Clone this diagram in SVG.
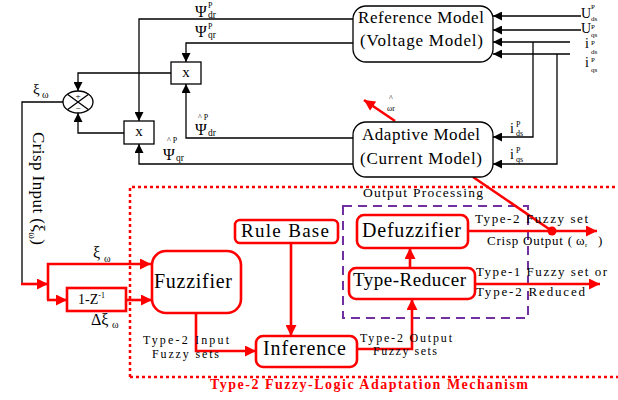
<svg xmlns="http://www.w3.org/2000/svg" width="618" height="400" viewBox="0 0 618 400">
  <style>
    .t{font-family:"Liberation Serif","Times New Roman",serif;fill:#000}
    .bk{stroke:#000;stroke-width:1.3;fill:none}
    .bkbox{stroke:#000;stroke-width:1.3;fill:#fff}
    .rd{stroke:#f00;stroke-width:2.6;fill:none}
    .rdbox{stroke:#f00;stroke-width:2.6;fill:#fff}
    .ab{marker-end:url(#arrB)}
    .ar{marker-end:url(#arrR)}
    .sub{font-size:8px}
    .tiny{font-size:7px}
    .lbl{font-size:13px}
    .lbs{font-size:12px}
  </style>
  <defs>
    <marker id="arrB" viewBox="0 0 10 10" refX="10" refY="5" markerWidth="9" markerHeight="9" markerUnits="userSpaceOnUse" orient="auto">
      <path d="M0,0 L10,5 L0,10 z" fill="#000"/>
    </marker>
    <marker id="arrR" viewBox="0 0 10 10" refX="10" refY="5" markerWidth="13" markerHeight="11" markerUnits="userSpaceOnUse" orient="auto">
      <path d="M0,0 L10,5 L0,10 z" fill="#f00"/>
    </marker>
  </defs>

  <!-- fuzzy adaptation mechanism frame (dotted) and output-processing frame (dashed) -->
  <g id="frames">
    <path d="M130,377 V187 H620 M130,377 H620" fill="none" stroke="#f00" stroke-width="2.5" stroke-dasharray="3,3"/>
    <rect x="343" y="206" width="185" height="112" fill="none" stroke="#7030A0" stroke-width="2" stroke-dasharray="9,6"/>
    <text class="t" x="363" y="197" font-size="13.5" textLength="120" lengthAdjust="spacing">Output Processing</text>
    <text x="210" y="389" font-family="Liberation Serif, serif" font-weight="bold" font-size="14" fill="#f00" textLength="318" lengthAdjust="spacing">Type-2 Fuzzy-Logic Adaptation Mechanism</text>
  </g>

  <!-- connectors -->
  <g id="connectors">
    <!-- model outputs to multipliers -->
    <path class="bk ab" d="M353,19 H139 V121"/>
    <path class="bk ab" d="M353,43 H186 V62"/>
    <path class="bk ab" d="M353,138 H186 V84"/>
    <path class="bk ab" d="M353,164 H139 V144"/>
    <!-- multipliers to summer -->
    <path class="bk ab" d="M171,73 H78 V91"/>
    <path class="bk ab" d="M124,133 H78 V113"/>
    <!-- error signal -->
    <path class="bk" d="M63,102 H22 V284"/>
    <path class="rd ar" d="M21,284 H48"/>
    <path class="rd" d="M48,263 V300"/>
    <path class="rd ar" d="M47,264 H151"/>
    <path class="rd ar" d="M47,300 H67"/>
    <path class="rd ar" d="M126,300 H152"/>
    <!-- fuzzy engine -->
    <path class="rd ar" d="M196,313 V351 H256"/>
    <path class="rd ar" d="M291,243 V336"/>
    <path class="rd ar" d="M357,349 H412 V299"/>
    <path class="rd ar" d="M410,268 V248"/>
    <path class="rd ar" d="M468,231 H597"/>
    <path class="rd ar" d="M475,284 H600"/>
    <path class="rd" d="M473,177 L552,231"/>
    <circle cx="552" cy="231" r="4.5" fill="#f00"/>
    <path class="rd ar" d="M395,121 L364,100"/>
    <!-- stator inputs -->
    <path class="bk ab" d="M581,16 H493"/>
    <path class="bk ab" d="M581,30 H493"/>
    <path class="bk ab" d="M570,42 H493"/>
    <path class="bk ab" d="M570,54 H493"/>
    <path class="bk ab" d="M533,42 V137 H493"/>
    <path class="bk ab" d="M557,54 V164 H493"/>
  </g>

  <!-- signal labels -->
  <g id="labels" class="t">
    <text x="195" y="17" font-size="16">Ψ</text>
    <text x="208" y="8" class="sub">P</text>
    <text x="208" y="18" font-size="9.5">dr</text>
    <text x="195" y="37" font-size="16">Ψ</text>
    <text x="208" y="29" class="sub">P</text>
    <text x="208" y="38" font-size="9.5">qr</text>

    <text x="198" y="120" class="sub">^ P</text>
    <text x="195" y="135" font-size="16">Ψ</text>
    <text x="208" y="136" font-size="9.5">dr</text>
    <text x="167" y="143" class="sub">^ P</text>
    <text x="163" y="160" font-size="16">Ψ</text>
    <text x="176" y="161" font-size="9.5">qr</text>

    <text x="33" y="94" font-size="15">ξ</text>
    <text x="42" y="98" font-size="10">ω</text>

    <text transform="translate(33,132) rotate(90)" font-size="17" textLength="113" lengthAdjust="spacing">Crisp Input (ξ<tspan font-size="10" dy="4">ω</tspan><tspan dy="-4">)</tspan></text>

    <text x="93" y="258" font-size="16">ξ</text>
    <text x="104" y="262" font-size="10">ω</text>
    <text x="91" y="325" font-size="16">Δξ</text>
    <text x="112" y="328" font-size="10">ω</text>

    <text x="581" y="18" font-size="14">U</text>
    <text x="591" y="9" class="tiny">P</text>
    <text x="591" y="21" class="tiny">ds</text>
    <text x="581" y="33" font-size="14">U</text>
    <text x="591" y="29" class="tiny">P</text>
    <text x="591" y="37" class="tiny">qs</text>
    <text x="585" y="48" font-size="14">i</text>
    <text x="591" y="45" class="tiny">P</text>
    <text x="591" y="54" class="tiny">ds</text>
    <text x="585" y="67" font-size="14">i</text>
    <text x="591" y="62" class="tiny">P</text>
    <text x="591" y="72" class="tiny">qs</text>

    <text x="510" y="133" font-size="14">i</text>
    <text x="516" y="127" class="sub">P</text>
    <text x="516" y="136" class="sub">ds</text>
    <text x="510" y="159" font-size="14">i</text>
    <text x="516" y="153" class="sub">P</text>
    <text x="516" y="162" class="sub">qs</text>

    <text x="389" y="101" font-size="8">^</text>
    <text x="387" y="111" font-size="8">ωr</text>

    <text x="143" y="344" class="lbs" textLength="86" lengthAdjust="spacing">Type-2 Input</text>
    <text x="152" y="357.5" class="lbs" textLength="67" lengthAdjust="spacing">Fuzzy sets</text>
    <text x="360" y="341.5" class="lbs" textLength="92" lengthAdjust="spacing">Type-2 Output</text>
    <text x="373" y="355" class="lbs" textLength="64" lengthAdjust="spacing">Fuzzy sets</text>
    <text x="475" y="223" class="lbl" textLength="113" lengthAdjust="spacing">Type-2 Fuzzy set</text>
    <text x="487" y="245" class="lbl" textLength="85" lengthAdjust="spacing">Crisp Output (</text>
    <text x="576" y="245" class="lbl">ω</text>
    <text x="585" y="247" font-size="7">r</text>
    <text x="598" y="245" class="lbl">)</text>
    <text x="476" y="276" class="lbl" textLength="131" lengthAdjust="spacing">Type-1 Fuzzy set or</text>
    <text x="476" y="296" class="lbl" textLength="109" lengthAdjust="spacing">Type-2 Reduced</text>
  </g>

  <!-- nodes -->
  <g id="reference-model">
    <rect class="bkbox" x="353" y="6" width="140" height="56" rx="13"/>
    <text class="t" x="358" y="23" font-size="17" textLength="126" lengthAdjust="spacing">Reference Model</text>
    <text class="t" x="360" y="46" font-size="17" textLength="123" lengthAdjust="spacing">(Voltage Model)</text>
  </g>
  <g id="adaptive-model">
    <rect class="bkbox" x="353" y="122" width="140" height="55" rx="13"/>
    <text class="t" x="362" y="140" font-size="17" textLength="118" lengthAdjust="spacing">Adaptive Model</text>
    <text class="t" x="360" y="164" font-size="17" textLength="122" lengthAdjust="spacing">(Current Model)</text>
  </g>
  <g id="mult-upper">
    <rect class="bkbox" x="171" y="62" width="30" height="22"/>
    <text class="t" x="186" y="77" font-size="15" text-anchor="middle">x</text>
  </g>
  <g id="mult-lower">
    <rect class="bkbox" x="124" y="121" width="30" height="23"/>
    <text class="t" x="139" y="136" font-size="15" text-anchor="middle">x</text>
  </g>
  <g id="summer">
    <ellipse class="bkbox" cx="78" cy="102" rx="15" ry="11"/>
    <path class="bk" d="M67.4,94.2 L88.6,109.8 M88.6,94.2 L67.4,109.8"/>
    <text class="t" x="78" y="99" font-size="9" text-anchor="middle">+</text>
    <text class="t" x="78" y="111" font-size="9" text-anchor="middle">−</text>
  </g>
  <g id="difference">
    <rect class="rdbox" x="67" y="288" width="59" height="23"/>
    <text class="t" x="78" y="304" font-size="14">1-Z<tspan font-size="8" dy="-6">-1</tspan></text>
  </g>
  <g id="fuzzifier">
    <rect class="rdbox" x="152" y="251" width="89" height="62" rx="14"/>
    <text class="t" x="154" y="288" font-size="20" textLength="78" lengthAdjust="spacing">Fuzzifier</text>
  </g>
  <g id="rule-base">
    <rect class="rdbox" x="235" y="220" width="103" height="23" rx="5"/>
    <text class="t" x="241" y="237" font-size="19" textLength="88" lengthAdjust="spacing">Rule Base</text>
  </g>
  <g id="inference">
    <rect class="rdbox" x="256" y="336" width="101" height="31" rx="7"/>
    <text class="t" x="263" y="355" font-size="20" textLength="83" lengthAdjust="spacing">Inference</text>
  </g>
  <g id="defuzzifier">
    <rect class="rdbox" x="357" y="215" width="111" height="33" rx="7"/>
    <text class="t" x="362" y="237" font-size="20" textLength="99" lengthAdjust="spacing">Defuzzifier</text>
  </g>
  <g id="type-reducer">
    <rect class="rdbox" x="349" y="268" width="126" height="31" rx="7"/>
    <text class="t" x="353" y="286" font-size="19" textLength="113" lengthAdjust="spacing">Type-Reducer</text>
  </g>
</svg>
